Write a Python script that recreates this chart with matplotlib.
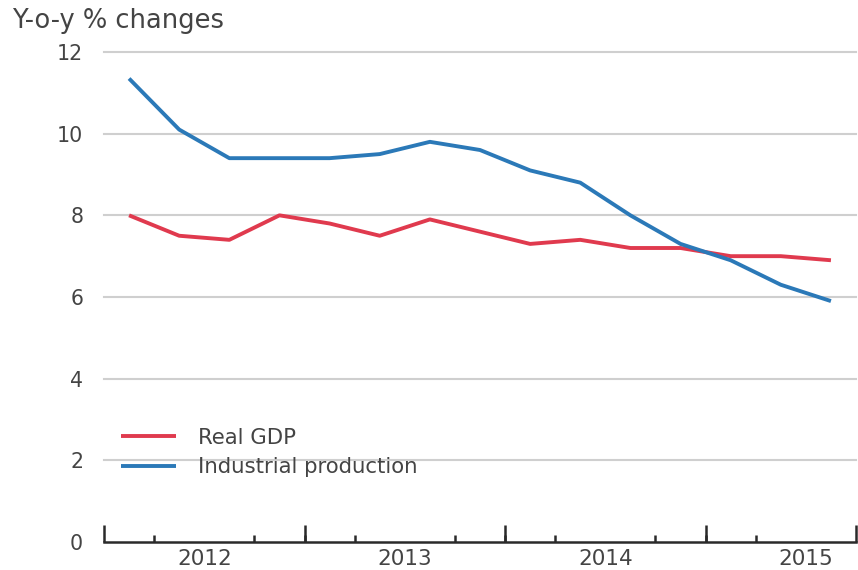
import numpy as np
import matplotlib
matplotlib.use("Agg")
import matplotlib.pyplot as plt

plt.rcParams["font.family"] = ["DejaVu Sans"]

# quarterly data, 2012Q1 - 2015Q3
quarters = ["2012Q1", "2012Q2", "2012Q3", "2012Q4",
            "2013Q1", "2013Q2", "2013Q3", "2013Q4",
            "2014Q1", "2014Q2", "2014Q3", "2014Q4",
            "2015Q1", "2015Q2", "2015Q3"]
real_gdp = [8.0, 7.5, 7.4, 8.0, 7.8, 7.5, 7.9, 7.6, 7.3, 7.4, 7.2, 7.2, 7.0, 7.0, 6.9]
industrial = [11.35, 10.1, 9.4, 9.4, 9.4, 9.5, 9.8, 9.6, 9.1, 8.8, 8.0, 7.3, 6.9, 6.3, 5.9]
years = ["2012", "2013", "2014", "2015"]

red = "#e03a4e"
blue = "#2b79b8"
txt = "#444444"

fig = plt.figure(figsize=(8.58, 5.70), dpi=100)
ax = fig.add_axes([104/858, 1-542/570, (856-104)/858, (542-52)/570])

x = np.arange(len(quarters)) + 0.5
ax.plot(x, real_gdp, color=red, lw=2.8, label="Real GDP", solid_capstyle="butt")
ax.plot(x, industrial, color=blue, lw=2.8, label="Industrial production", solid_capstyle="butt")

ax.set_xlim(0, 15)
ax.set_ylim(0, 12)

ax.set_yticks(np.arange(0, 13, 2))
ax.set_yticklabels([str(v) for v in range(0, 13, 2)])
for v in range(2, 13, 2):
    ax.axhline(v, color="#cfcfcf", lw=1.5, zorder=0, clip_on=False)
ax.tick_params(axis="y", length=0, pad=15, labelsize=14.8, labelcolor=txt)

for s in ["top", "right", "left"]:
    ax.spines[s].set_visible(False)
ax.spines["bottom"].set_color("#2a2a2a")
ax.spines["bottom"].set_linewidth(1.8)

# year labels at year centres, small ticks at quarters
ax.set_xticks([2, 6, 10, 14])
ax.set_xticklabels(years)
ax.set_xticks(np.arange(1, 15), minor=True)
ax.tick_params(axis="x", which="major", length=0, pad=5, labelsize=15.5, labelcolor=txt)
ax.tick_params(axis="x", which="minor", direction="in", length=5, width=1.8, color="#2a2a2a")

# tall ticks at year boundaries
sec = ax.secondary_xaxis("bottom")
sec.set_xticks([0, 4, 8, 12, 15])
sec.set_xticklabels([])
sec.spines["bottom"].set_visible(False)
sec.tick_params(direction="in", length=12, width=1.8, color="#2a2a2a")

leg = ax.legend(loc="upper left", bbox_to_anchor=(0.011, 0.251), frameon=False,
                fontsize=15.3, handlelength=2.6, handletextpad=1.05,
                labelspacing=0.45, borderaxespad=0)
for t in leg.get_texts():
    t.set_color(txt)

fig.text(12/858, 1-28/570, "Y-o-y % changes", fontsize=18.5, color=txt,
         ha="left", va="baseline")

fig.savefig("out.png", dpi=100)
